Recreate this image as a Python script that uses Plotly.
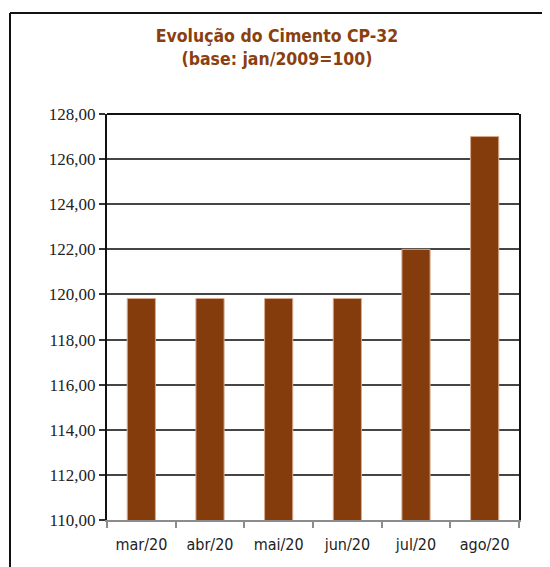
import plotly.graph_objects as go

categories = ["mar/20", "abr/20", "mai/20", "jun/20", "jul/20", "ago/20"]
values = [119.82, 119.82, 119.82, 119.82, 122.0, 127.0]
title_line1 = "Evolução do Cimento CP-32"
title_line2 = "(base: jan/2009=100)"

OFF = 8  # page body margin
W, H = 550, 567
L, R, T, B = 107 - OFF, 519 - OFF, 114 - OFF, 520 - OFF  # plot area in figure pixels
pw, ph = R - L, B - T

def px(x):
    return (x - OFF - L) / pw

def py(y):
    return (B - (y - OFF)) / ph

narrow = "DejaVu Sans Condensed, Liberation Sans Narrow, Arial Narrow, sans-serif"

fig = go.Figure(go.Bar(
    x=categories, y=values,
    marker=dict(color="#843C0C", line=dict(color="#D8A98C", width=1)),
    width=0.41,
))

fig.update_layout(
    width=W, height=H,
    margin=dict(l=L, r=W - R, t=T, b=H - B),
    paper_bgcolor="white", plot_bgcolor="white",
    separators=",.",
    showlegend=False,
    title=dict(
        text=f"<b>{title_line1}<br>{title_line2}</b>",
        font=dict(family=narrow, size=17.5, color="#8B3F0F"),
        x=(277 - OFF) / W, xanchor="center", xref="container",
        y=1 - 34 / H, yanchor="top", yref="container",
    ),
    xaxis=dict(
        showline=True, linecolor="#8C8C8C", linewidth=2,
        ticks="outside", tickson="boundaries", ticklen=6, tickcolor="#8C8C8C", tickwidth=2,
        tickfont=dict(family=narrow, size=16, color="#222222"),
        ticklabelstandoff=9,
        showgrid=False,
    ),
    yaxis=dict(
        range=[110, 128], dtick=2, tick0=110, tickformat=".2f",
        showline=True, linecolor="#111111", linewidth=2, mirror=True,
        ticks="outside", ticklen=6, tickcolor="#333333", tickwidth=2,
        showgrid=True, gridcolor="#454545", gridwidth=2,
        tickfont=dict(family="Liberation Serif", size=17, color="#222222"),
        zeroline=False,
    ),
    shapes=[
        dict(type="line", xref="paper", yref="paper", x0=0, x1=1, y0=1, y1=1,
             line=dict(color="#111111", width=2)),
        dict(type="line", xref="paper", yref="paper", x0=px(10), x1=px(570), y0=py(13), y1=py(13),
             line=dict(color="#111111", width=2)),
        dict(type="line", xref="paper", yref="paper", x0=px(10), x1=px(10), y0=py(13), y1=py(600),
             line=dict(color="#111111", width=2)),
    ],
)

fig.write_html("out.html")
